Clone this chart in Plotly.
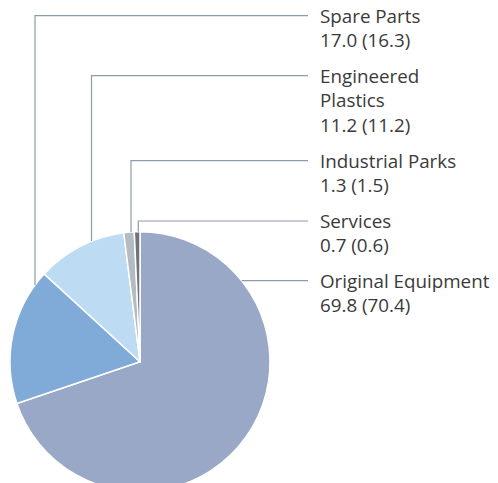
import plotly.graph_objects as go

categories = ["Original Equipment", "Spare Parts", "Engineered Plastics", "Industrial Parks", "Services"]
label_text = ["Original Equipment", "Spare Parts", "Engineered<br>Plastics", "Industrial Parks", "Services"]
values_current = [69.8, 17.0, 11.2, 1.3, 0.7]
values_previous = [70.4, 16.3, 11.2, 1.5, 0.6]
colors = ["#98a8c6", "#80aad8", "#bddbf3", "#b3bcc1", "#707478"]

W, H = 498, 500
# pie placement (pixels)
cx, cy, r = 140, 361.7, 130

fig = go.Figure(go.Pie(
    labels=categories,
    values=values_current,
    sort=False,
    direction="clockwise",
    rotation=0,
    textinfo="none",
    hoverinfo="label+value",
    marker=dict(colors=colors, line=dict(color="white", width=1.5)),
    domain=dict(x=[(cx - r) / W, (cx + r) / W], y=[1 - (cy + r) / H, 1 - (cy - r) / H]),
    showlegend=False,
))

def px(x):
    return x / W

def py(y):
    return 1 - y / H

line_style = dict(color="#8d9ca9", width=1.2)
label_x = 318
line_end = 308
font_size = 18.8
line_gap = 1.3 * font_size
# leader layout: (label row y, vertical-line x or None for horizontal-only)
leaders = {
    "Spare Parts": (15.7, 35),
    "Engineered Plastics": (75.7, 91.5),
    "Industrial Parks": (160.7, 131),
    "Services": (221, 138.3),
    "Original Equipment": (280.7, None),
}

shapes = []
annotations = []
for cat, lbl, cur, prev in zip(categories, label_text, values_current, values_previous):
    ly, vx = leaders[cat]
    if vx is not None:
        ey = cy - (r ** 2 - (vx - cx) ** 2) ** 0.5
        pts = [(vx, ey), (vx, ly), (line_end, ly)]
    else:
        ex = cx + (r ** 2 - (ly - cy) ** 2) ** 0.5
        pts = [(ex, ly), (line_end, ly)]
    path = "M " + " L ".join(f"{px(a)},{py(b)}" for a, b in pts)
    shapes.append(dict(type="path", xref="paper", yref="paper", path=path, line=line_style))
    text = f"{lbl}<br>{cur:.1f} ({prev:.1f})"
    n = text.count("<br>") + 1
    annotations.append(dict(
        x=px(label_x), y=py(ly + (n - 1) * line_gap / 2), xref="paper", yref="paper",
        xanchor="left", yanchor="middle", align="left", showarrow=False,
        text=text,
        font=dict(family="Open Sans", size=font_size, color="#3a3a3a"),
    ))

fig.update_layout(
    width=W, height=H, autosize=False,
    margin=dict(l=0, r=0, t=0, b=0),
    paper_bgcolor="white", plot_bgcolor="white",
    shapes=shapes, annotations=annotations,
)

fig.write_html("out.html", config={"displayModeBar": False},
               post_script="document.body.style.margin='0';document.body.style.overflow='hidden';")
